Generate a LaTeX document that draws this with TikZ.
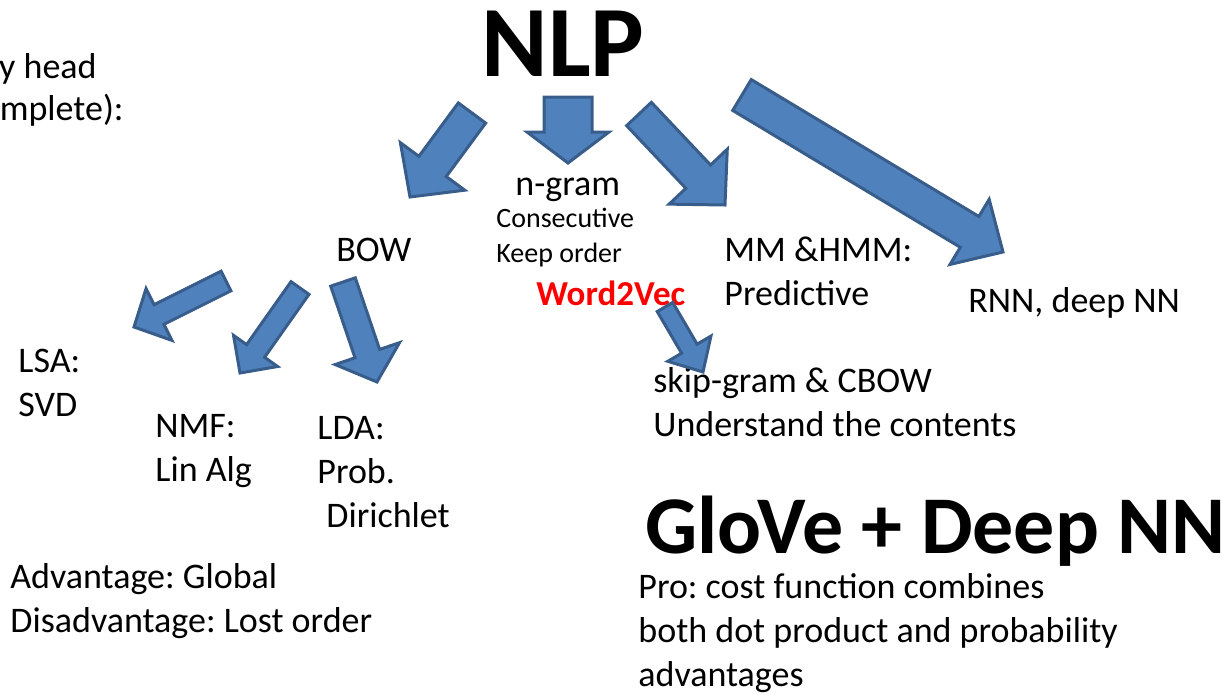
\documentclass[tikz,border=0pt]{standalone}
\usepackage{fontspec}
\setmainfont{Carlito}
\usepackage{tikz}
\usetikzlibrary{calc,positioning}
\definecolor{arrblue}{RGB}{79,129,189}
\definecolor{arredge}{RGB}{56,93,138}
\definecolor{wordred}{RGB}{255,0,0}
\frenchspacing
% tail, tip, half shaft, half head, head length
\newcommand\blockarrow[5]{%
  \coordinate (#1-b) at ($(#2)!#5!(#1)$);
  \draw[blockarr] ($(#1)!#3!90:(#2)$) -- ($(#1-b)!#3!90:(#2)$) -- ($(#1-b)!#4!90:(#2)$)
    -- (#2) -- ($(#1-b)!#4!-90:(#2)$) -- ($(#1-b)!#3!-90:(#2)$) -- ($(#1)!#3!-90:(#2)$) -- cycle;}

\begin{document}
\begin{tikzpicture}[x=0.5pt,y=-0.5pt,
  every node/.style={inner sep=0pt,align=left},
  txt/.style={font=\fontsize{18}{21.8}\selectfont},
  sml/.style={font=\fontsize{14}{17.3}\selectfont},
  title/.style={font=\fontsize{50.5}{60}\selectfont\bfseries},
  glove/.style={font=\fontsize{41}{50}\selectfont\bfseries},
  w2v/.style={font=\fontsize{17.5}{21}\selectfont\bfseries,text=wordred},
  blockarr/.style={fill=arrblue,draw=arredge,line width=1.5pt,line join=miter}]
\useasboundingbox (0,0) rectangle (1223,692);
\clip (0,0) rectangle (1223,692);
\node[txt,anchor=base east] (head1) at (97,78) {my head};
\node[txt,anchor=base east] (head2) at (124,120) {complete):};
\node[title,anchor=base] (nlp) at (563,76) {NLP};
\node[txt,anchor=base west] (ngram) at (515,195) {n-gram};
\node[sml,anchor=base west] (ngramtxt) at (496,262) {Consecutive\\Keep order};
\node[txt,anchor=base west] (bow) at (336,261) {BOW};
\node[txt,anchor=base west] (mm) at (724,305) {MM \&HMM:\\Predictive};
\node[w2v,anchor=base west] (word2vec) at (536,305) {Word2Vec};
\node[txt,anchor=base west] (rnn) at (968,312) {RNN, deep NN};
\node[txt,anchor=base west] (lsa) at (18,416) {LSA:\\SVD};
\node[txt,anchor=base west] (nmf) at (155,481) {NMF:\\Lin Alg};
\node[txt,anchor=base west] (lda) at (317,527) {LDA:\\Prob.\\\hspace*{0.25em}Dirichlet};
\node[txt,anchor=base west] (skip) at (653,436) {skip-gram \& CBOW\\Understand the contents};
\node[glove,anchor=base west] (gl) at (645,553) {GloVe + Deep NN};
\node[txt,anchor=base west] (pro) at (638,686) {Pro: cost function combines\\both dot product and probability\\advantages};
\node[txt,anchor=base west] (adv) at (10,632) {Advantage: Global\\Disadvantage: Lost order};
\coordinate (bowS) at (472,113); \coordinate (bowE) at (410,197);
\coordinate (ngS) at (568,97); \coordinate (ngE) at (568,163);
\coordinate (mmS) at (639,114); \coordinate (mmE) at (725,205);
\coordinate (rnnS) at (742,95); \coordinate (rnnE) at (1003,252);
\coordinate (lsaS) at (226,281); \coordinate (lsaE) at (134,327);
\coordinate (nmfS) at (300,288); \coordinate (nmfE) at (240,373);
\coordinate (ldaS) at (343,282); \coordinate (ldaE) at (377,382);
\coordinate (skS) at (665,307); \coordinate (skE) at (703,372);
\blockarrow{bowS}{bowE}{8.5pt}{20pt}{19pt}
\blockarrow{ngS}{ngE}{12pt}{20.5pt}{15.5pt}
\blockarrow{mmS}{mmE}{8.5pt}{20pt}{19.5pt}
\blockarrow{rnnS}{rnnE}{9pt}{19pt}{19.5pt}
\blockarrow{lsaS}{lsaE}{5.5pt}{14.5pt}{14pt}
\blockarrow{nmfS}{nmfE}{5.5pt}{13.5pt}{13.5pt}
\blockarrow{ldaS}{ldaE}{6.5pt}{17pt}{15pt}
\blockarrow{skS}{skE}{4.5pt}{12.5pt}{13.5pt}
\end{tikzpicture}
\end{document}
